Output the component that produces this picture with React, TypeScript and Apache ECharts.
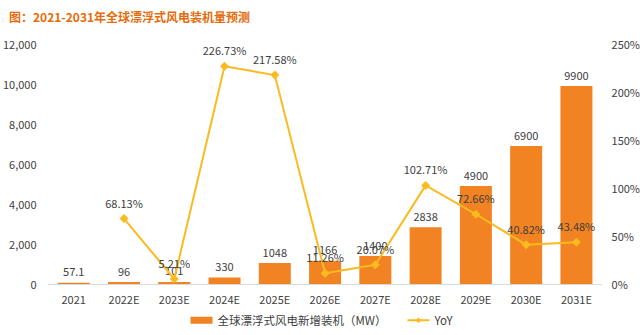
import React, { useEffect, useRef } from "react";
import * as echarts from "echarts";

const categories = ["2021", "2022E", "2023E", "2024E", "2025E", "2026E", "2027E", "2028E", "2029E", "2030E", "2031E"];
const capacity = [57.1, 96, 101, 330, 1048, 1166, 1400, 2838, 4900, 6900, 9900];
const yoy = [null, 68.13, 5.21, 226.73, 217.58, 11.26, 20.07, 102.71, 72.66, 40.82, 43.48];
const barName = "全球漂浮式风电新增装机（MW）";
const lineName = "YoY";
const titleText = "图：2021-2031年全球漂浮式风电装机量预测";

const FONT = "'Noto Sans CJK SC', 'Noto Sans', sans-serif";

export default function App() {
  const ref = useRef<HTMLDivElement>(null);
  useEffect(() => {
    const chart = echarts.init(ref.current!, null, { renderer: "svg" });
    chart.setOption({
      animation: false,
      textStyle: { fontFamily: FONT },
      title: {
        text: titleText,
        left: 4,
        top: 5,
        textStyle: { color: "#E46C0A", fontSize: 12, fontWeight: "bold", fontFamily: FONT },
      },
      legend: {
        bottom: 4,
        left: "center",
        itemGap: 20,
        textStyle: { color: "#404040", fontSize: 11.5, fontFamily: FONT },
        data: [
          { name: barName, icon: "rect", itemStyle: { color: "#F28322" } },
          { name: lineName },
        ],
        itemWidth: 22,
        itemHeight: 7,
      },
      grid: { left: 44, right: 41, top: 44, bottom: 51 },
      xAxis: {
        type: "category",
        data: categories,
        axisLine: { lineStyle: { color: "#D9D9D9" } },
        axisTick: { show: false },
        axisLabel: { color: "#404040", fontSize: 11, margin: 9 },
      },
      yAxis: [
        {
          type: "value",
          min: 0,
          max: 12000,
          interval: 2000,
          splitLine: { show: false },
          axisLine: { show: false },
          axisTick: { show: false },
          axisLabel: {
            color: "#404040",
            fontSize: 11,
            margin: 12,
            formatter: (v: number) => v.toLocaleString("en-US"),
          },
        },
        {
          type: "value",
          min: 0,
          max: 250,
          interval: 50,
          splitLine: { show: false },
          axisLine: { show: false },
          axisTick: { show: false },
          axisLabel: { color: "#404040", fontSize: 11, margin: 10, formatter: "{value}%" },
        },
      ],
      series: [
        {
          name: barName,
          type: "bar",
          data: capacity,
          barWidth: 32,
          itemStyle: { color: "#F28322" },
          label: {
            show: true,
            position: "top",
            color: "#404040",
            fontSize: 11,
            distance: 6,
          },
        },
        {
          name: lineName,
          type: "line",
          yAxisIndex: 1,
          data: yoy,
          symbol: "diamond",
          symbolSize: 9,
          lineStyle: { color: "#FBBA1F", width: 2 },
          itemStyle: { color: "#FBBA1F" },
          label: {
            show: true,
            position: "top",
            color: "#404040",
            fontSize: 11,
            distance: 6,
            formatter: (p: any) => p.value.toFixed(2) + "%",
          },
        },
      ],
    });
    return () => chart.dispose();
  }, []);
  return <div ref={ref} style={{ position: "absolute", left: 0, top: 0, width: 643, height: 335 }} />;
}
